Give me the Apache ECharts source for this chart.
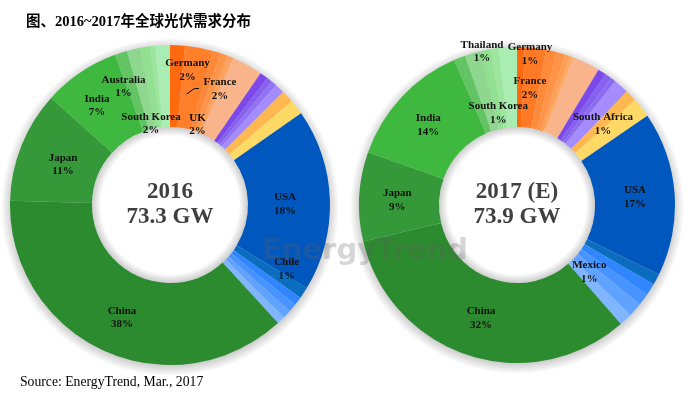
<!DOCTYPE html>
<html>
<head>
<meta charset="utf-8">
<script src="https://cdn.jsdelivr.net/npm/echarts@6/dist/echarts.min.js"></script>
<style>
html,body{margin:0;padding:0;background:#fff;}
#chart{width:692px;height:399px;}
</style>
</head>
<body>
<div id="chart"></div>
<script>
// ---------- data ----------
const titleText = '图、2016~2017年全球光伏需求分布';
const sourceText = 'Source: EnergyTrend, Mar., 2017';
const centerYears = ['2016', '2017 (E)'];
const centerTotals = ['73.3 GW', '73.9 GW'];

// 2016 slices, clockwise from 12 o'clock (share of demand, %)
const names2016 = ['Germany','France','UK','Other EU 1','Other EU 2','Other EU 3',
  'Other A1','Other A2','Other A3','Other A4','Other B1','Other B2',
  'USA','Chile','Other C1','Other C2','Other C3','Other C4',
  'China','Japan','India','Australia','Other D1','Other D2','Other D3','South Korea'];
const values2016 = [1.5, 2.83, 0.75, 0.75, 0.65, 3.1,
  0.83, 0.56, 0.56, 0.97, 1.25, 1.53,
  18.4, 1.14, 0.86, 0.83, 0.86, 0.83,
  37.2, 11.25, 7.75, 1.25, 1.33, 1.0, 0.5, 1.5];
const labels2016 = {Germany:'2%', France:'2%', UK:'2%', USA:'18%', Chile:'1%',
  China:'38%', Japan:'11%', India:'7%', Australia:'1%', 'South Korea':'2%'};

// 2017 (E) slices, clockwise from 12 o'clock (share of demand, %)
const names2017 = ['Germany','France','Other EU 1','Other EU 2','Other EU 3','Other EU 4','Other EU 5',
  'Other A1','Other A2','Other A3','Other A4','South Africa','Other B1',
  'USA','Other C1','Other C2','Other C3','Mexico','Other C4',
  'China','Japan','India','Other D1','Thailand','Other D2','Other D3','South Korea'];
const values2017 = [0.8, 2.14, 1.08, 0.89, 0.53, 0.36, 2.83,
  0.83, 0.69, 0.53, 1.56, 1.17, 2.03,
  16.8, 1.14, 1.22, 1.22, 1.44, 1.33,
  32.7, 9.14, 13.06, 1.19, 1.58, 1.03, 0.83, 1.89];
const labels2017 = {Thailand:'1%', Germany:'1%', France:'2%', 'South Korea':'1%', India:'14%',
  'South Africa':'1%', USA:'17%', Mexico:'1%', Japan:'9%', China:'32%'};

// ---------- styles ----------
const colors2016 = ['#ff6a10','#ff7f2a','#ff8838','#ff9548','#ffa25e','#fab48b',
  '#7c48ea','#8660ee','#9373f5','#a48cff','#ffb84f','#ffd966',
  '#0057bd','#0b6dc0','#2f86ff','#4793ff','#5fa2ff','#80b6ff',
  '#2c8a2f','#35993a','#3eb83f','#62c462','#8fd68f','#92e092','#9de69d','#aaedb2'];
const colors2017 = ['#ff6a10','#ff7a24','#ff8a3a','#ff9446','#ff9f55','#ffa95f','#fab48b',
  '#7c48ea','#8660ee','#8d6bf2','#a48cff','#ffb84f','#ffd966',
  '#0057bd','#0b6dc0','#2f86ff','#4793ff','#5fa2ff','#80b6ff',
  '#2c8a2f','#35993a','#3eb83f','#62c462','#8fd68f','#92e092','#9de69d','#aaedb2'];

const labelPos = [
  {Germany:[187.5,70], France:[220,89], UK:[197.5,124.5], Australia:[123.5,86.5], India:[97,105.5],
   'South Korea':[151,123.5], Japan:[63,164.5], USA:[285,204], Chile:[286.7,269], China:[122,317.5]},
  {Thailand:[482,51.7], Germany:[530,54], France:[530,88.3], 'South Korea':[498.3,113.3], India:[428.3,125],
   'South Africa':[603,124], Japan:[397.3,200], USA:[635,197.3], Mexico:[589.3,272], China:[481,318]}
];
const franceLine = [[186.7,94],[194.3,88.6],[199,88.6]];
const donuts = [{cx: 170, cy: 205, r0: 78, r: 160}, {cx: 517, cy: 205, r0: 78, r: 158}];

const serif = '"Liberation Serif", "Times New Roman", serif';

function buildData(names, values, colors) {
  return names.map((n, i) => ({name: n, value: values[i], itemStyle: {color: colors[i]}}));
}

function centerSeries(idx) {
  const d = donuts[idx];
  return {
    type: 'pie', center: [d.cx, d.cy], radius: [0, d.r0 - 12], silent: true, z: 4,
    startAngle: 90, animation: false,
    itemStyle: {color: 'rgba(255,255,255,0)'},
    label: {show: true, position: 'center',
      formatter: centerYears[idx] + '\n' + centerTotals[idx],
      fontFamily: serif, fontWeight: 'bold', fontSize: 23, lineHeight: 25, color: '#404040'},
    labelLine: {show: false},
    emphasis: {disabled: true},
    data: [{value: 1, name: 'center' + idx}]
  };
}

function dataSeries(idx, names, values, colors) {
  const d = donuts[idx];
  return {
    type: 'pie', center: [d.cx, d.cy], radius: [d.r0, d.r], startAngle: 90, clockwise: true,
    avoidLabelOverlap: false, animation: false, z: 2,
    emphasis: {disabled: true},
    itemStyle: {borderWidth: 0},
    label: {show: false}, labelLine: {show: false},
    data: buildData(names, values, colors)
  };
}

// soft shadow inside the hole and a halo around the ring
function shadowShapes(idx) {
  const d = donuts[idx];
  const R = d.r + 9;
  return [
    {type: 'circle', z: -10, silent: true,
     shape: {cx: d.cx, cy: d.cy + 2, r: R},
     style: {fill: {type: 'radial', x: 0.5, y: 0.5, r: 0.5, colorStops: [
       {offset: 0, color: 'rgba(0,0,0,0)'},
       {offset: (d.r0 + 4) / R, color: 'rgba(0,0,0,0)'},
       {offset: (d.r0 + 6) / R, color: 'rgba(0,0,0,0.2)'},
       {offset: (d.r - 2) / R, color: 'rgba(0,0,0,0.2)'},
       {offset: 1, color: 'rgba(0,0,0,0)'}]}}},
    {type: 'circle', z: 3, silent: true,
     shape: {cx: d.cx, cy: d.cy, r: d.r0},
     style: {fill: {type: 'radial', x: 0.5, y: 0.5, r: 0.5, colorStops: [
       {offset: 0, color: 'rgba(0,0,0,0)'},
       {offset: (d.r0 - 9) / d.r0, color: 'rgba(0,0,0,0)'},
       {offset: 1, color: 'rgba(0,0,0,0.2)'}]}}}
  ];
}

function labelGraphics(k, labels) {
  return Object.keys(labels).map(n => ({
    type: 'text', x: labelPos[k][n][0], y: labelPos[k][n][1], z: 60, silent: true,
    style: {text: n + '\n' + labels[n], font: 'bold 11px ' + serif, fill: '#111',
      align: 'center', verticalAlign: 'middle', textAlign: 'center', textVerticalAlign: 'middle',
      lineHeight: 13.5}
  }));
}

const chart = echarts.init(document.getElementById('chart'), null, {renderer: 'canvas'});

chart.setOption({
  backgroundColor: '#fff',
  animation: false,
  title: {
    text: titleText, left: 26, top: 15, padding: 0,
    textStyle: {fontFamily: serif + ', "Noto Sans CJK SC"', fontWeight: 'bold', fontSize: 14.5, color: '#000'}
  },
  graphic: shadowShapes(0).concat(shadowShapes(1), [
    {type: 'text', left: 20, top: 375, z: 10,
     style: {text: sourceText, font: '13.7px ' + serif, fill: '#000'}},
    {type: 'polyline', z: 50, silent: true,
     shape: {points: franceLine}, style: {stroke: '#000', lineWidth: 1, fill: null}},
    {type: 'text', left: 262, top: 237, z: 100, silent: true,
     style: {text: 'EnergyTrend', font: 'bold 29px "DejaVu Sans", sans-serif', fill: 'rgba(95,95,95,0.26)'}}
  ], labelGraphics(0, labels2016), labelGraphics(1, labels2017)),
  series: [
    dataSeries(0, names2016, values2016, colors2016),
    dataSeries(1, names2017, values2017, colors2017),
    centerSeries(0),
    centerSeries(1)
  ],
  labelLayout: function (p) {
    if (p.seriesIndex === 2) return {x: 170, y: 205, align: 'center', verticalAlign: 'middle'};
    if (p.seriesIndex === 3) return {x: 517, y: 201.5, align: 'center', verticalAlign: 'middle'};
    return {};
  }
});
</script>
</body>
</html>
